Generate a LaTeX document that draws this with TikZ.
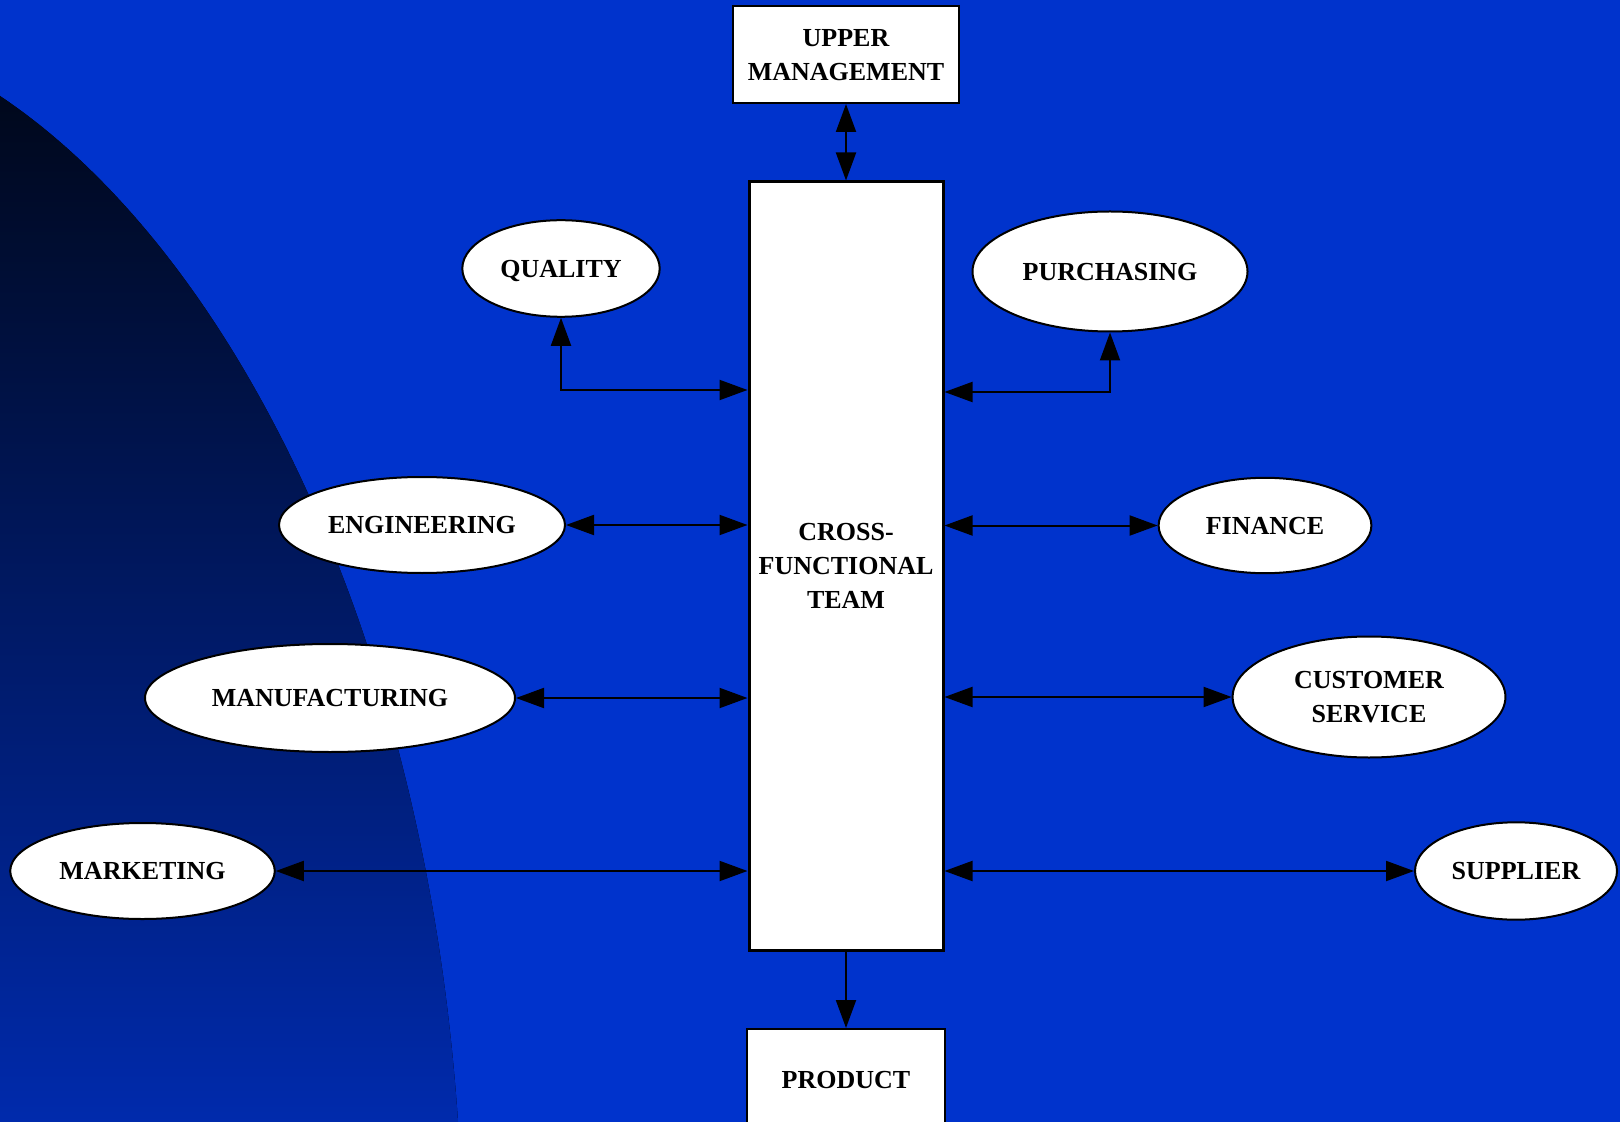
\documentclass[tikz,border=0pt]{standalone}
\usepackage{fontspec}
\setmainfont{Liberation Serif}
\usepackage{tikz}
\usetikzlibrary{shapes.geometric, arrows.meta, positioning}
\definecolor{slideblue}{RGB}{0,51,204}
\definecolor{arctop}{RGB}{0,8,28}
\definecolor{arcbottom}{RGB}{0,42,172}

\tikzset{
    dept/.style={ellipse,
                 draw=black,
                 line width=1pt,
                 fill=white,
                 text=black,
                 inner sep=0pt,
                 text depth=0pt,
                 align=center,
                 font=\fontsize{13}{17}\selectfont\bfseries},
    block/.style={rectangle,
                  draw=black,
                  line width=1pt,
                  fill=white,
                  text=black,
                  inner sep=0pt,
                  text depth=0pt,
                  align=center,
                  font=\fontsize{13}{17}\selectfont\bfseries},
    head/.tip={Triangle[length=14pt, width=10pt]},
    link/.style={line width=1pt, head-head},
    flow/.style={line width=1pt, -head}
}

\begin{document}
\begin{tikzpicture}[x=0.5pt, y=-0.5pt]
        % Background and the dark arc
        \useasboundingbox (0,0) rectangle (1620,1122);
        \clip (0,0) rectangle (1620,1122);
        \fill[slideblue] (0,0) rectangle (1620,1122);
        \fill[top color=arctop, bottom color=arcbottom]
            (0,96) .. controls (230,250) and (425,630) .. (458,1122)
            -- (0,1122) -- cycle;

        % Add the boxes
        \node[block,
              minimum width=112.7pt,
              minimum height=48.5pt] (upper) at (846,54.5) {UPPER\\MANAGEMENT};
        \node[block,
              line width=1.5pt,
              minimum width=97pt,
              minimum height=384pt] (team) at (846,566) {CROSS-\\FUNCTIONAL\\TEAM};
        \node[block,
              minimum width=98.6pt,
              minimum height=51pt] (product) at (846,1080) {PRODUCT};

        % Add the departments
        \node[dept, minimum width=98.7pt, minimum height=48.3pt] (quality) at (561,268.5) {QUALITY};
        \node[dept, minimum width=137.5pt, minimum height=60pt] (purchasing) at (1110,271.5) {PURCHASING};
        \node[dept, minimum width=143pt, minimum height=48pt] (engineering) at (422,525) {ENGINEERING};
        \node[dept, minimum width=106.4pt, minimum height=47.7pt] (finance) at (1265,525.5) {FINANCE};
        \node[dept, minimum width=185pt, minimum height=54pt] (manufacturing) at (330,698) {MANUFACTURING};
        \node[dept, minimum width=136.4pt, minimum height=60.5pt] (service) at (1369,697) {CUSTOMER\\SERVICE};
        \node[dept, minimum width=132.3pt, minimum height=48pt] (marketing) at (142.5,871) {MARKETING};
        \node[dept, minimum width=101pt, minimum height=48.7pt] (supplier) at (1516,871) {SUPPLIER};

        % Connect the nodes with arrows
        \draw[link] (upper.south) -- (team.north);
        \draw[flow] (team.south) -- (product.north);
        \draw[link] (quality.south) |- ([yshift=88pt]team.west);
        \draw[link] (purchasing.south) |- ([yshift=87pt]team.east);
        \draw[link] (engineering) -- (engineering -| team.west);
        \draw[link] (manufacturing) -- (manufacturing -| team.west);
        \draw[link] (marketing) -- (marketing -| team.west);
        \draw[link] (finance -| team.east) -- (finance);
        \draw[link] (service -| team.east) -- (service);
        \draw[link] (supplier -| team.east) -- (supplier);
    \end{tikzpicture}
\end{document}
